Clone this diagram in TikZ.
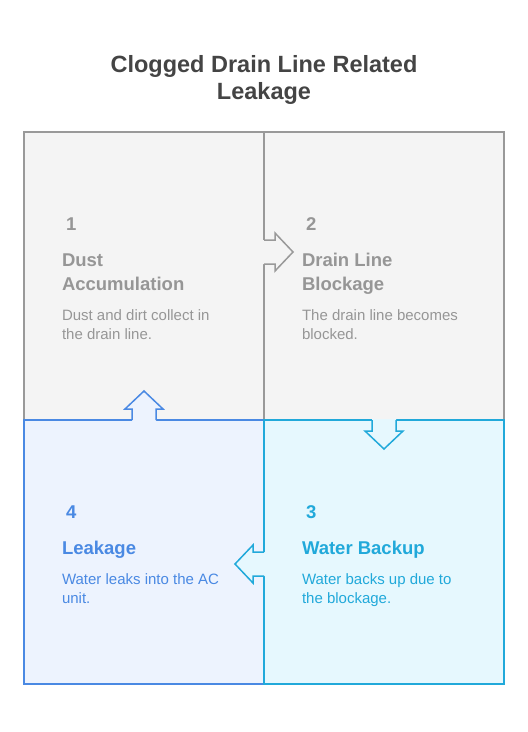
\documentclass[tikz,border=0pt]{standalone}
\usepackage{fontspec}
\setmainfont{Liberation Sans}
\usetikzlibrary{calc,positioning}
\definecolor{graystroke}{RGB}{153,153,153}
\definecolor{grayfill}{RGB}{244,244,244}
\definecolor{graytext}{RGB}{150,150,150}
\definecolor{bluestroke}{RGB}{74,137,227}
\definecolor{bluefill}{RGB}{237,243,254}
\definecolor{cyanstroke}{RGB}{33,169,218}
\definecolor{cyanfill}{RGB}{230,248,254}
\definecolor{titlegray}{RGB}{68,68,68}

% arrow bump on a box edge: base point, angle, fill, stroke
\newcommand{\stagearrow}[4]{%
  \begin{scope}[shift={(#1)}, rotate=#2]
    \fill[#3] (-1,-12) -- (11,-12) -- (11,-19) -- (29,0) -- (11,19) -- (11,12) -- (-1,12) -- cycle;
    \draw[#4, line width=1.5pt, line join=miter] (0,-12) -- (11,-12) -- (11,-19) -- (29,0) -- (11,19) -- (11,12) -- (0,12);
  \end{scope}}

\begin{document}
\begin{tikzpicture}[x=1pt,y=-1pt]
  \useasboundingbox (0,0) rectangle (528,732);
  \tikzstyle{every node}=[inner sep=0pt, outer sep=0pt]
  \tikzstyle{stagebox}=[draw, line width=1.5pt, minimum width=240pt]
  \tikzstyle{stepnum}=[anchor=base west, font=\fontsize{18.5}{24}\selectfont\bfseries]
  \tikzstyle{heading}=[anchor=base west, align=left, font=\fontsize{18.5}{24}\selectfont\bfseries]
  \tikzstyle{desc}=[anchor=base west, align=left, font=\fontsize{15}{18.5}\selectfont]

  % title (base = last line)
  \node[align=center, anchor=base, text=titlegray, font=\fontsize{23.5}{27}\selectfont\bfseries] (title) at (264,99)
    {Clogged Drain Line Related\\Leakage};

  % upper row
  \node[stagebox, draw=graystroke, fill=grayfill, minimum height=288pt] (dust) at (144,276) {};
  \node[stagebox, draw=graystroke, fill=grayfill, minimum height=288pt] (block) at (384,276) {};
  % lower row
  \node[stagebox, draw=bluestroke, fill=bluefill, minimum height=264pt] (leak) at (144,552) {};
  \node[stagebox, draw=cyanstroke, fill=cyanfill, minimum height=264pt] (backup) at (384,552) {};

  % arrows between the stages
  \coordinate (a12) at (dust.east |- 0,252);
  \coordinate (a23) at (backup.north);
  \coordinate (a34) at (backup.west |- 0,564);
  \coordinate (a41) at (leak.north);
  \stagearrow{a12}{0}{grayfill}{graystroke}
  \stagearrow{a23}{-90}{cyanfill}{cyanstroke}
  \stagearrow{a34}{180}{cyanfill}{cyanstroke}
  \stagearrow{a41}{90}{bluefill}{bluestroke}

  % texts (multi-line nodes sit on their last line)
  \tikzstyle{every node}=[inner sep=0pt, outer sep=0pt, text=graytext]
  \node[stepnum] (n1) at (66,230) {1};
  \node[heading] (h1) at (62,290) {Dust\\Accumulation};
  \node[desc] (d1) at (62,339) {Dust and dirt collect in\\the drain line.};

  \node[stepnum] (n2) at (306,230) {2};
  \node[heading] (h2) at (302,290) {Drain Line\\Blockage};
  \node[desc] (d2) at (302,339) {The drain line becomes\\blocked.};

  \tikzstyle{every node}=[inner sep=0pt, outer sep=0pt, text=cyanstroke]
  \node[stepnum] (n3) at (306,518) {3};
  \node[heading] (h3) at (302,554) {Water Backup};
  \node[desc] (d3) at (302,603) {Water backs up due to\\the blockage.};

  \tikzstyle{every node}=[inner sep=0pt, outer sep=0pt, text=bluestroke]
  \node[stepnum] (n4) at (66,518) {4};
  \node[heading] (h4) at (62,554) {Leakage};
  \node[desc] (d4) at (62,603) {Water leaks into the AC\\unit.};
\end{tikzpicture}
\end{document}
